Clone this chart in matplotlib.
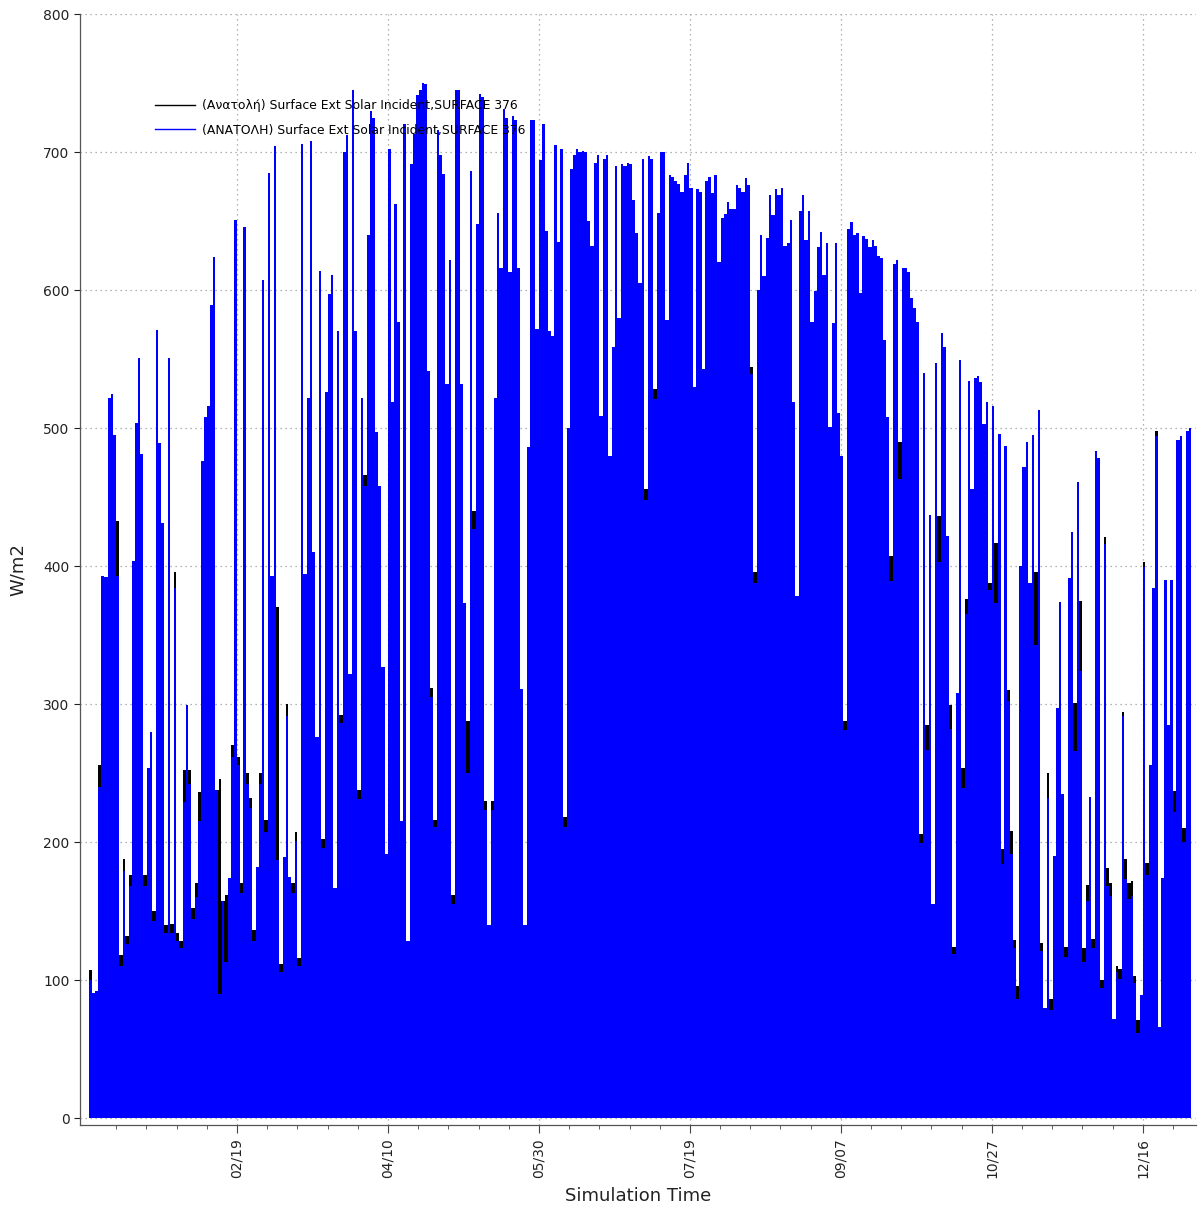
import matplotlib
matplotlib.use("Agg")
import matplotlib.pyplot as plt
from matplotlib.ticker import FixedLocator
from matplotlib.lines import Line2D
import numpy as np

# Daily peak of the hourly exterior solar incident radiation, east surface (W/m2)
jan = [100, 91, 92, 240, 393, 392, 522, 525, 495, 393, 110, 179, 126, 168, 404, 504,
       551, 481, 168, 254, 280, 143, 571, 489, 431, 134, 551, 134, 384, 128, 123]
feb = [229, 299, 242, 144, 160, 215, 476, 508, 516, 589, 624, 238, 90, 157, 113, 174,
       262, 651, 256, 163, 646, 242, 225, 128, 182, 242, 607, 207]
mar = [685, 393, 704, 187, 106, 189, 291, 175, 163, 201, 110, 706, 394, 522, 708, 410,
       276, 614, 196, 526, 597, 611, 167, 570, 286, 700, 712, 322, 745, 570, 231]
apr = [522, 458, 640, 730, 725, 497, 458, 327, 191, 702, 519, 662, 577, 215, 720, 128,
       691, 713, 741, 745, 750, 749, 541, 305, 211, 716, 698, 684, 532, 622]
may = [155, 745, 745, 532, 373, 250, 686, 427, 648, 742, 740, 223, 140, 223, 522, 656,
       616, 731, 725, 613, 726, 723, 616, 311, 140, 486, 723, 723, 572, 694, 720]
jun = [643, 570, 567, 705, 635, 702, 211, 500, 688, 698, 702, 700, 701, 700, 650, 632,
       692, 698, 509, 695, 698, 480, 559, 690, 580, 691, 690, 692, 691, 665]
jul = [641, 605, 695, 448, 697, 695, 521, 656, 700, 700, 578, 683, 682, 679, 677, 671,
       683, 692, 674, 530, 673, 671, 543, 679, 682, 670, 683, 620, 652, 655, 664]
aug = [659, 659, 676, 674, 671, 681, 676, 539, 388, 600, 640, 610, 638, 669, 654, 673,
       669, 674, 632, 634, 651, 519, 378, 657, 669, 636, 657, 577, 599, 631, 642]
sep = [611, 634, 501, 576, 634, 511, 480, 281, 644, 649, 640, 641, 598, 639, 637, 631,
       636, 632, 625, 623, 564, 508, 389, 619, 622, 463, 616, 616, 613, 594]
oct_ = [587, 577, 199, 540, 267, 437, 155, 547, 403, 569, 559, 422, 282, 119, 308, 549,
        239, 365, 534, 456, 536, 538, 533, 503, 519, 383, 516, 373, 496, 184, 487]
nov = [302, 191, 123, 86, 400, 472, 490, 388, 495, 343, 513, 121, 80, 232, 78, 190,
       297, 374, 235, 117, 391, 425, 266, 461, 324, 113, 157, 233, 123, 483]
dec = [478, 94, 416, 168, 161, 72, 106, 101, 291, 173, 159, 161, 98, 62, 89, 399,
       176, 256, 384, 494, 66, 174, 390, 285, 390, 222, 491, 494, 200, 498, 500]

# Days (0 = 1 Jan) on which the "(Ανατολή)" series peaks above the "(ΑΝΑΤΟΛΗ)" one
black_day = [0, 3, 9, 10, 11, 12, 13, 18, 21, 25, 27, 28, 29, 30, 31, 33, 34, 35, 36,
             43, 45, 47, 49, 50, 52, 53, 54, 56, 58, 62, 63, 65, 67, 68, 69, 77, 80,
             83, 89, 91, 96, 97, 102, 104, 113, 114, 120, 125, 127, 131, 133, 157,
             184, 187, 219, 220, 232, 250, 265, 268, 275, 277, 281, 285, 286, 289,
             290, 298, 300, 302, 304, 305, 306, 307, 313, 315, 317, 318, 323, 326,
             328, 329, 330, 332, 335, 336, 337, 338, 340, 341, 342, 343, 344, 345,
             346, 347, 349, 350, 353, 359, 362]
black_val = [107, 256, 433, 118, 188, 132, 176, 176, 150, 140, 141, 396, 134, 128, 252,
             252, 152, 170, 236, 246, 162, 270, 262, 170, 250, 232, 136, 250, 216, 370,
             112, 300, 170, 207, 116, 202, 174, 292, 238, 466, 330, 196, 221, 135, 312,
             216, 162, 288, 440, 230, 230, 218, 456, 528, 544, 396, 530, 288, 407, 490,
             206, 285, 436, 299, 124, 254, 376, 388, 417, 195, 310, 208, 129, 96, 396,
             127, 250, 86, 124, 301, 375, 123, 169, 130, 100, 421, 181, 170, 110, 108,
             294, 188, 170, 172, 103, 71, 403, 185, 498, 237, 210]

tick_days = [49, 99, 149, 199, 249, 299, 349]
tick_labels = ["02/19", "04/10", "05/30", "07/19", "09/07", "10/27", "12/16"]

blue_label = "(ΑΝΑΤΟΛΗ) Surface Ext Solar Incident,SURFACE 376"
black_label = "(Ανατολή) Surface Ext Solar Incident,SURFACE 376"

blue_peaks = np.array(jan + feb + mar + apr + may + jun + jul + aug + sep + oct_ + nov + dec,
                      dtype=float)
days = np.arange(len(blue_peaks))
black_peaks = blue_peaks.copy()
black_peaks[black_day] = np.maximum(black_peaks[black_day], black_val)

fig = plt.figure(figsize=(11.98, 12.16), dpi=100)
ax = fig.add_axes([80 / 1198, 91 / 1216, 1116 / 1198, 1111 / 1216])


def draw_series(peaks, color, z):
    # one stroke per day, with the space between neighbouring days filled
    # up to the lower of the two peaks
    ax.bar(days + 0.5, peaks, width=0.72, color=color, linewidth=0, zorder=z)
    ax.bar(days[1:], np.minimum(peaks[:-1], peaks[1:]), width=0.3, color=color,
           linewidth=0, zorder=z)


draw_series(black_peaks, "black", 2)
draw_series(blue_peaks, "#0000ff", 3)

ax.set_xlim(-2.98, 366.6)
ax.set_ylim(-5, 800)
ax.set_yticks(np.arange(0, 801, 100))
ax.xaxis.set_major_locator(FixedLocator(tick_days))
ax.set_xticklabels(tick_labels, rotation=90, fontsize=10, color="#222222")
ax.xaxis.set_minor_locator(FixedLocator(np.arange(9, 365, 10)))
ax.tick_params(axis="y", labelsize=10, colors="#222222", length=4)
ax.tick_params(axis="x", which="major", length=6, color="#444444")
ax.tick_params(axis="x", which="minor", length=3, color="#444444")

ax.grid(True, which="major", linestyle=(0, (1, 3)), color="#9a9a9a", linewidth=0.9)
ax.set_axisbelow(True)
for side in ("top", "right"):
    ax.spines[side].set_visible(False)
for side in ("left", "bottom"):
    ax.spines[side].set_color("#555555")
    ax.spines[side].set_linewidth(0.9)

ax.set_ylabel("W/m2", fontsize=13, color="#222222", labelpad=12)
ax.set_xlabel("Simulation Time", fontsize=13, color="#222222", labelpad=6)

handles = [Line2D([], [], color="black", linewidth=1.0),
           Line2D([], [], color="#0000ff", linewidth=1.0)]
ax.legend(handles, [black_label, blue_label], loc="upper left",
          bbox_to_anchor=(0.063, 0.928), frameon=False, fontsize=8.9,
          handlelength=3.2, handletextpad=0.6, labelspacing=0.95, borderaxespad=0)

fig.savefig("out.png", dpi=100)
